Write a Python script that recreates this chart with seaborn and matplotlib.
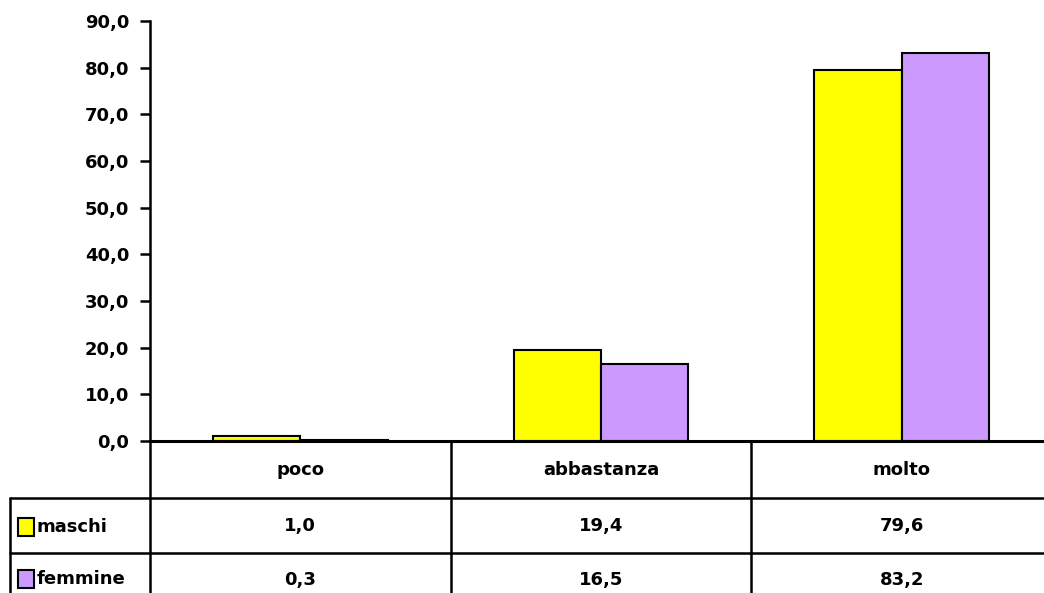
import pandas as pd
import matplotlib
matplotlib.use("Agg")
import matplotlib.pyplot as plt
from matplotlib.patches import Rectangle
import seaborn as sns

# ==========================================================
# DATA
# ==========================================================

categories = ["poco", "abbastanza", "molto"]
series_names = ["maschi", "femmine"]
maschi = [1.0, 19.4, 79.6]
femmine = [0.3, 16.5, 83.2]
colors = ["#FFFF00", "#CC99FF"]
y_ticks = [0, 10, 20, 30, 40, 50, 60, 70, 80, 90]

df = pd.DataFrame({
    "categoria": categories * 2,
    "serie": [series_names[0]] * 3 + [series_names[1]] * 3,
    "valore": maschi + femmine,
})

# ==========================================================
# FIGURE
# ==========================================================

W, H = 1044, 593
sns.set_style("white")
plt.rcParams["font.family"] = ["DejaVu Sans"]
plt.rcParams["text.color"] = "black"
plt.rcParams["ytick.color"] = "black"
plt.rcParams["ytick.labelcolor"] = "black"

fig = plt.figure(figsize=(W / 100, H / 100), dpi=100)
ax = fig.add_axes([150 / W, (H - 441) / H, 902 / W, (441 - 21) / H])

sns.barplot(data=df, x="categoria", y="valore", hue="serie",
            palette=colors, saturation=1, edgecolor="black", linewidth=1.5,
            width=0.58, gap=0, legend=False, ax=ax)

ax.set_xlim(-0.5, 2.5)
ax.set_ylim(0, 90)
ax.set_yticks(y_ticks)
ax.set_yticklabels([f"{v:.1f}".replace(".", ",") for v in y_ticks],
                   fontsize=13, fontweight="bold", color="black")
ax.tick_params(axis="y", direction="out", length=7, width=1.8, pad=8, left=True)
ax.set_xticks([])
ax.set_xlabel("")
ax.set_ylabel("")
for s in ["top", "right"]:
    ax.spines[s].set_visible(False)
ax.spines["left"].set_linewidth(1.8)
ax.spines["left"].set_color("black")
ax.spines["bottom"].set_linewidth(2.2)
ax.spines["bottom"].set_color("black")

# ==========================================================
# DATA TABLE BELOW THE CHART (pixel layout)
# ==========================================================

def px(y):
    return (H - y) / H

def dx(x_data):
    # data x -> figure fraction
    disp = ax.transData.transform((x_data, 0))
    return fig.transFigure.inverted().transform(disp)[0]

lw = 1.8
line_kw = dict(color="black", linewidth=lw, transform=fig.transFigure, clip_on=False)

# vertical lines through header and body
for xb in [-0.5, 0.5, 1.5]:
    fig.add_artist(plt.Line2D([dx(xb), dx(xb)], [px(441), px(593)], **line_kw))
# left edge of label column
fig.add_artist(plt.Line2D([10 / W, 10 / W], [px(498), px(593)], **line_kw))
# horizontal row separators
for yr in [498, 553]:
    fig.add_artist(plt.Line2D([10 / W, 1.0], [px(yr), px(yr)], **line_kw))

txt_kw = dict(fontsize=13, fontweight="bold", ha="center", va="center",
              color="black", transform=fig.transFigure)

for i, cat in enumerate(categories):
    fig.text(dx(i), px(470), cat, **txt_kw)
    fig.text(dx(i), px(526), f"{maschi[i]:.1f}".replace(".", ","), **txt_kw)
    fig.text(dx(i), px(580), f"{femmine[i]:.1f}".replace(".", ","), **txt_kw)

for name, col, yc in [(series_names[0], colors[0], 527), (series_names[1], colors[1], 579)]:
    fig.add_artist(Rectangle((18 / W, px(yc + 9)), 16 / W, 18 / H,
                             facecolor=col, edgecolor="black", linewidth=1.5,
                             transform=fig.transFigure))
    fig.text(37 / W, px(yc), name, fontsize=13, fontweight="bold",
             ha="left", va="center", color="black", transform=fig.transFigure)

fig.savefig("out.png", dpi=100)
